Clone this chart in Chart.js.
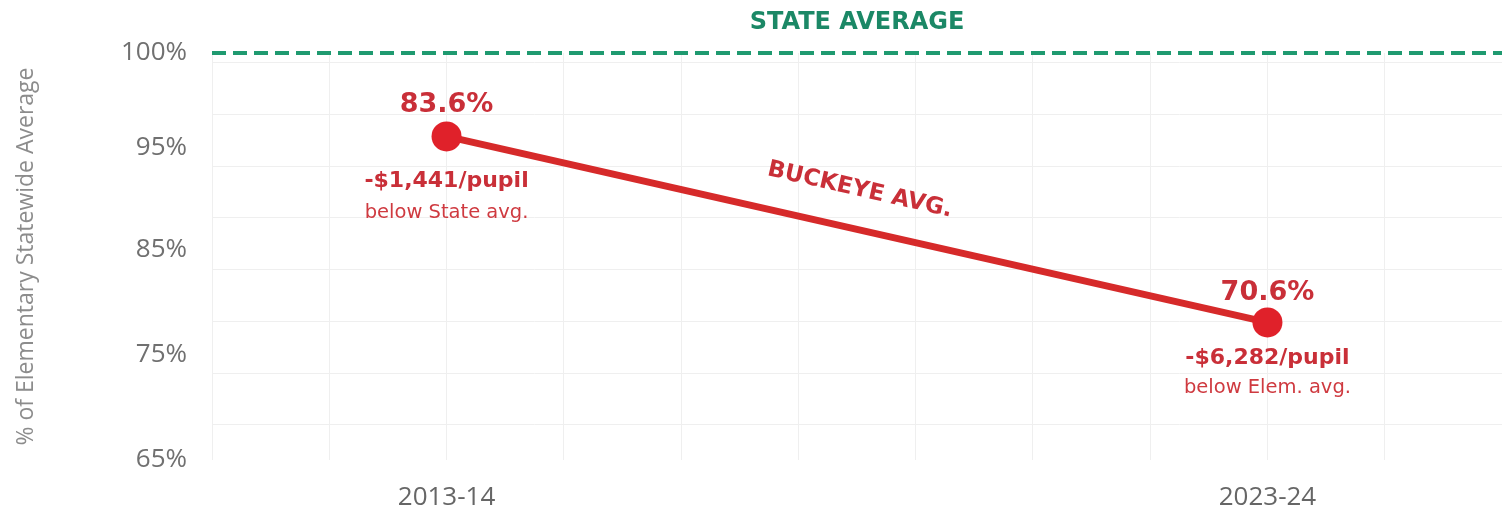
<!DOCTYPE html>
<html>
<head>
<meta charset="utf-8">
<script src="https://cdn.jsdelivr.net/npm/chart.js@4.4.1/dist/chart.umd.min.js"></script>
<style>
  html, body { margin: 0; padding: 0; background: #ffffff; }
  #wrap { width: 1502px; height: 510px; position: relative; }
</style>
</head>
<body>
<div id="wrap"><canvas id="c" width="1502" height="510"></canvas></div>
<script>
// ---------------- data ----------------
const categories = ['', '', '2013-14', '', '', '', '', '', '', '2023-24', '', ''];
const buckeyeValues = [null, null, 95.6, null, null, null, null, null, null, 78.1, null, null];
const stateAverage = 100;
const yTickValues = [65, 75, 85, 95, 100];
const pointLabels = ['83.6%', '70.6%'];
const gapLabels = ['-$1,441/pupil', '-$6,282/pupil'];
const gapNotes = ['below State avg.', 'below Elem. avg.'];
const stateLabel = 'STATE AVERAGE';
const buckeyeLabel = 'BUCKEYE AVG.';
const yAxisTitle = '% of Elementary Statewide Average';

// ---------------- layout / style ----------------
const TICK_FRACTIONS = [0, 0.258, 0.516, 0.767, 1];
const RED_LINE = '#d62a2a';
const RED_POINT = '#e0212a';
const RED_TEXT = '#c92f38';
const GREEN = '#1f9a70';
const GREEN_TEXT = '#1b8866';
const GRID = '#efefef';

class StepScale extends Chart.LinearScale {
  buildTicks() { return yTickValues.map(v => ({ value: v })); }
  _dec(v) {
    const vs = yTickValues, fs = TICK_FRACTIONS, n = vs.length - 1;
    if (v <= vs[0]) return fs[0] + (v - vs[0]) / (vs[1] - vs[0]) * (fs[1] - fs[0]);
    for (let i = 1; i <= n; i++) {
      if (v <= vs[i]) return fs[i - 1] + (v - vs[i - 1]) / (vs[i] - vs[i - 1]) * (fs[i] - fs[i - 1]);
    }
    return fs[n] + (v - vs[n]) / (vs[n] - vs[n - 1]) * (fs[n] - fs[n - 1]);
  }
  getPixelForValue(v) { return this.getPixelForDecimal(this._dec(v)); }
  getValueForPixel(p) {
    const d = this.getDecimalForPixel(p);
    const vs = yTickValues, fs = TICK_FRACTIONS;
    for (let i = 1; i < vs.length; i++) {
      if (d <= fs[i]) return vs[i - 1] + (d - fs[i - 1]) / (fs[i] - fs[i - 1]) * (vs[i] - vs[i - 1]);
    }
    return vs[vs.length - 1];
  }
}
StepScale.id = 'step';
StepScale.defaults = Chart.LinearScale.defaults;
Chart.register(StepScale);

const annotations = {
  id: 'annotations',
  afterDatasetsDraw(chart) {
    const ctx = chart.ctx;
    const area = chart.chartArea;
    const yS = chart.scales.y;
    const meta = chart.getDatasetMeta(1);
    const pts = [];
    buckeyeValues.forEach((v, i) => { if (v !== null) pts.push(meta.data[i]); });

    ctx.save();
    ctx.textAlign = 'center';
    ctx.textBaseline = 'middle';

    // state average label
    ctx.fillStyle = GREEN_TEXT;
    ctx.font = 'bold 24px "DejaVu Sans"';
    ctx.fillText(stateLabel, (area.left + area.right) / 2, yS.getPixelForValue(stateAverage) - 30);

    // point labels
    const offs = [{ p: -31, g: 45, n: 76 }, { p: -29, g: 36, n: 65 }];
    pts.forEach((pt, k) => {
      const o = offs[k];
      ctx.fillStyle = RED_TEXT;
      ctx.font = 'bold 27px "DejaVu Sans"';
      ctx.fillText(pointLabels[k], pt.x, pt.y + o.p);
      ctx.font = 'bold 22px "DejaVu Sans"';
      ctx.fillText(gapLabels[k], pt.x, pt.y + o.g);
      ctx.font = '19.5px "DejaVu Sans"';
      ctx.fillStyle = '#cf3a40';
      ctx.fillText(gapNotes[k], pt.x, pt.y + o.n);
    });

    // buckeye label along the line
    if (pts.length === 2) {
      const a = Math.atan2(pts[1].y - pts[0].y, pts[1].x - pts[0].x);
      const mx = (pts[0].x + pts[1].x) / 2, my = (pts[0].y + pts[1].y) / 2;
      ctx.translate(mx, my);
      ctx.rotate(a);
      ctx.fillStyle = RED_TEXT;
      ctx.font = 'bold 23px "DejaVu Sans"';
      ctx.fillText(buckeyeLabel, -6, -39);
    }
    ctx.restore();
  }
};

new Chart(document.getElementById('c'), {
  type: 'line',
  data: {
    labels: categories,
    datasets: [
      {
        label: stateLabel,
        data: categories.map(() => stateAverage),
        borderColor: GREEN,
        borderWidth: 4,
        borderDash: [14, 7],
        pointRadius: 0,
        fill: false,
        clip: false,
        xAxisID: 'x',
        yAxisID: 'y'
      },
      {
        label: buckeyeLabel,
        data: buckeyeValues,
        borderColor: RED_LINE,
        borderWidth: 7,
        pointRadius: 15,
        pointHoverRadius: 15,
        pointBackgroundColor: RED_POINT,
        pointBorderWidth: 0,
        spanGaps: true,
        fill: false,
        clip: false,
        xAxisID: 'x',
        yAxisID: 'y'
      }
    ]
  },
  options: {
    responsive: false,
    animation: false,
    events: [],
    layout: { autoPadding: false, padding: { top: 53, right: 0, bottom: 0, left: 0 } },
    plugins: { legend: { display: false }, tooltip: { enabled: false } },
    scales: {
      x: {
        type: 'category',
        offset: false,
        grid: { display: true, color: GRID, lineWidth: 1, borderDash: [2, 4], drawTicks: false },
        border: { display: false },
        ticks: {
          autoSkip: false, maxRotation: 0, padding: 22,
          color: '#666666',
          font: { family: '"Open Sans"', size: 26 }
        },
        afterFit(s) { s.height = 50; s.paddingLeft = 0; s.paddingRight = 0; }
      },
      y: {
        type: 'step',
        position: 'left',
        min: 65,
        max: 100,
        grid: { display: false, drawTicks: false },
        border: { display: false },
        ticks: {
          padding: 25,
          color: '#707070',
          font: { family: '"Open Sans"', size: 26 },
          callback: v => v + '%'
        },
        title: {
          display: true,
          text: yAxisTitle,
          color: '#8c8c8c',
          font: { family: '"Open Sans"', size: 23 },
          padding: { top: 13, bottom: 0 }
        },
        afterFit(s) { s.width = 212; }
      },
      yg: {
        type: 'linear',
        position: 'left',
        min: -0.68,
        max: 7.19,
        grid: { display: true, color: GRID, lineWidth: 1, borderDash: [2, 4], drawTicks: false },
        border: { display: false },
        ticks: { display: false },
        afterBuildTicks(s) { s.ticks = [0, 1, 2, 3, 4, 5, 6, 7].map(v => ({ value: v })); },
        afterFit(s) { s.width = 0; }
      }
    }
  },
  plugins: [annotations]
});
</script>
</body>
</html>
